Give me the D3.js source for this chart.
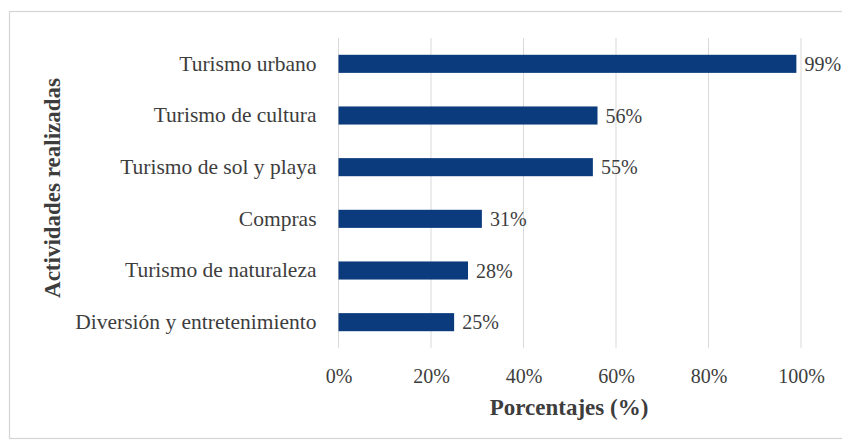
<!DOCTYPE html>
<html>
<head>
<meta charset="utf-8">
<script src="https://cdn.jsdelivr.net/npm/d3@7"></script>
<style>
  html, body { margin: 0; padding: 0; background: #fff; }
  svg { display: block; font-family: "Liberation Serif", "Times New Roman", serif; }
</style>
</head>
<body>
<svg id="chart" width="842" height="443"></svg>
<script>
// Actividades realizadas y porcentaje de turistas
const categories = [
  "Turismo urbano",
  "Turismo de cultura",
  "Turismo de sol y playa",
  "Compras",
  "Turismo de naturaleza",
  "Diversión y entretenimiento"
];
const values = [99, 56, 55, 31, 28, 25];
const tickValues = [0, 20, 40, 60, 80, 100];

const svg = d3.select("#chart");
const textColor = "#3d3d3d";

// frame
svg.append("rect")
  .attr("x", 9.5).attr("y", 11.5)
  .attr("width", 840).attr("height", 427)
  .attr("fill", "#fff")
  .attr("stroke", "#d4d4d4").attr("stroke-width", 1.2);

const plot = { left: 338.5, right: 801, top: 38, bottom: 348 };

const x = d3.scaleLinear().domain([0, 100]).range([plot.left, plot.right]);
const y = d3.scaleBand().domain(categories).range([plot.top, plot.bottom])
  .paddingInner(0.65).paddingOuter(0.325);

// vertical grid
svg.append("g")
  .selectAll("line")
  .data(tickValues)
  .join("line")
  .attr("x1", d => x(d)).attr("x2", d => x(d))
  .attr("y1", plot.top).attr("y2", plot.bottom)
  .attr("stroke", "#d9d9d9").attr("stroke-width", 1);

// bars
svg.append("g")
  .selectAll("rect")
  .data(values)
  .join("rect")
  .attr("x", x(0))
  .attr("y", (d, i) => y(categories[i]))
  .attr("width", d => x(d) - x(0))
  .attr("height", y.bandwidth())
  .attr("fill", "#0b3b7c");

// value labels
svg.append("g")
  .selectAll("text")
  .data(values)
  .join("text")
  .attr("x", d => x(d) + 8)
  .attr("y", (d, i) => y(categories[i]) + y.bandwidth() / 2 + 7)
  .attr("font-size", 20)
  .attr("fill", textColor)
  .text(d => d + "%");

// category axis
const yAxis = d3.axisLeft(y).tickSize(0).tickPadding(22);
const gy = svg.append("g").attr("transform", `translate(${plot.left},0)`).call(yAxis);
gy.select(".domain").remove();
gy.selectAll("text")
  .attr("font-family", "Liberation Serif, serif")
  .attr("font-size", 21.5)
  .attr("fill", textColor);

// value axis
const xAxis = d3.axisBottom(x).tickValues(tickValues).tickFormat(d => d + "%").tickSize(0).tickPadding(21);
const gx = svg.append("g").attr("transform", `translate(0,${plot.bottom})`).call(xAxis);
gx.select(".domain").remove();
gx.selectAll("text")
  .attr("font-family", "Liberation Serif, serif")
  .attr("font-size", 20)
  .attr("fill", textColor);

// axis titles
svg.append("text")
  .attr("x", 569)
  .attr("y", 415)
  .attr("text-anchor", "middle")
  .attr("font-size", 23)
  .attr("font-weight", "bold")
  .attr("fill", textColor)
  .text("Porcentajes (%)");

svg.append("text")
  .attr("transform", "translate(60,188) rotate(-90)")
  .attr("text-anchor", "middle")
  .attr("font-size", 23)
  .attr("font-weight", "bold")
  .attr("fill", textColor)
  .text("Actividades realizadas");
</script>
</body>
</html>
